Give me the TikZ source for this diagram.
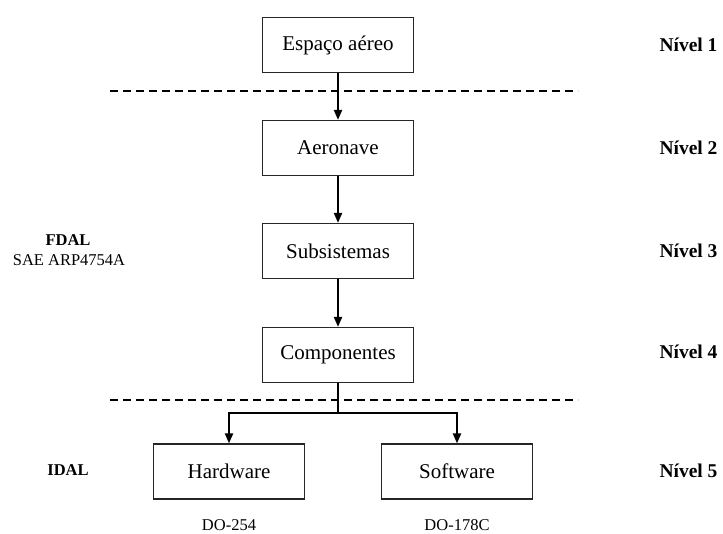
\documentclass[tikz,border=0pt]{standalone}
\usepackage{fontspec}
\setmainfont{Liberation Serif}
\usetikzlibrary{arrows.meta}
\begin{document}
\begin{tikzpicture}[x=1pt,y=-1pt,
  blockbox/.style={draw=black!85,line width=1.2pt,minimum width=151pt,minimum height=55pt,inner sep=0pt,font=\fontsize{21}{24}\selectfont},
  levellabel/.style={font=\fontsize{19.5}{22}\selectfont\bfseries,anchor=east},
  smalltext/.style={font=\fontsize{16.5}{19}\selectfont},
  smallbold/.style={font=\fontsize{16.5}{19}\selectfont\bfseries},
  flow/.style={line width=2pt,-{Triangle[width=8pt,length=10pt]}},
  sepline/.style={line width=1.4pt,dash pattern=on 8pt off 5pt}]
\useasboundingbox (0,0) rectangle (723,533);

% hierarchy boxes
\node[blockbox] (esp) at (338,45) {Espaço aéreo};
\node[blockbox] (aer) at (338,148) {Aeronave};
\node[blockbox] (sub) at (338,251) {Subsistemas};
\node[blockbox] (comp) at (338,355) {Componentes};
\node[blockbox] (hw) at (229,471.5) {Hardware};
\node[blockbox] (sw) at (457,471.5) {Software};

% level separators
\coordinate (s1a) at (110,91);
\coordinate (s1b) at (578,91);
\coordinate (s2a) at (110,400);
\coordinate (s2b) at (578,400);
\draw[sepline] (s1a) -- (s1b);
\draw[sepline] (s2a) -- (s2b);

% flow arrows
\draw[flow] (esp) -- (aer);
\draw[flow] (aer) -- (sub);
\draw[flow] (sub) -- (comp);
\coordinate (split) at (338,413);
\draw[line width=2pt] (comp.south) -- (split);
\draw[flow] (split) -| (hw.north);
\draw[flow] (split) -| (sw.north);

% level labels
\node[levellabel] (n1) at (721,45) {Nível 1};
\node[levellabel] (n2) at (721,148) {Nível 2};
\node[levellabel] (n3) at (721,251) {Nível 3};
\node[levellabel] (n4) at (721,352) {Nível 4};
\node[levellabel] (n5) at (721,471) {Nível 5};

% assurance levels and standards
\node[smallbold] (fdal) at (68,240) {FDAL};
\node[smalltext] (arp) at (69,260) {SAE ARP4754A};
\node[smallbold] (idal) at (68,470) {IDAL};
\node[smalltext] (do254) at (229,525) {DO-254};
\node[smalltext] (do178) at (457,525) {DO-178C};
\end{tikzpicture}
\end{document}
